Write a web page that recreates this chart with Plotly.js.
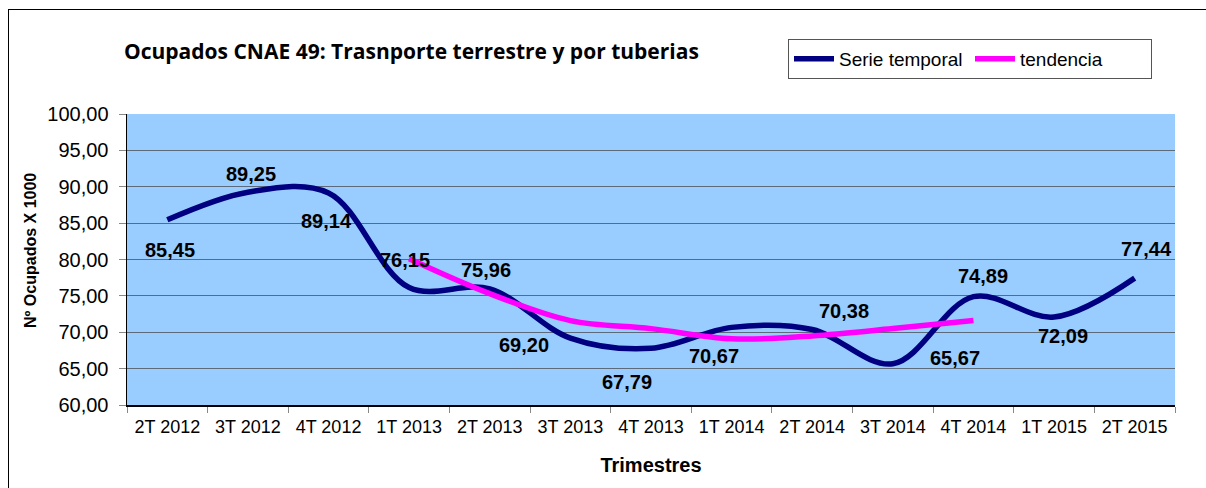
<!DOCTYPE html>
<html>
<head>
<meta charset="utf-8">
<script src="https://cdn.plot.ly/plotly-3.0.1.min.js"></script>
<style>
html,body{margin:0;padding:0;background:#fff;}
#wrap{position:relative;width:1206px;height:488px;overflow:hidden;}
#chart{position:absolute;left:0;top:0;width:1206px;height:488px;}
#frame{position:absolute;left:8px;top:9px;width:1220px;height:500px;border-left:1px solid #000;border-top:1px solid #000;pointer-events:none;}
</style>
</head>
<body>
<div id="wrap"><div id="chart"></div><div id="frame"></div></div>
<script>
// ---- data ----
const categories = ["2T 2012","3T 2012","4T 2012","1T 2013","2T 2013","3T 2013","4T 2013","1T 2014","2T 2014","3T 2014","4T 2014","1T 2015","2T 2015"];
const serieTemporal = [85.45, 89.25, 89.14, 76.15, 75.96, 69.20, 67.79, 70.67, 70.38, 65.67, 74.89, 72.09, 77.44];
const tendencia = [null, null, null, 80.1, 75.3, 71.6, 70.5, 69.1, 69.5, 70.5, 71.6, null, null];
const yTickValues = [60, 65, 70, 75, 80, 85, 90, 95, 100];

// label placement (pixel offsets from each point), styling only
const labelShiftX = [3, 3, -2, -4, -4, -46, -24, -18, 32, 62, 10, 9, 12];
const labelShiftY = [-30, 18, -28, 28, 19, -7, -34, -29, 18, 6, 21, -19, 29];

const fmt = v => v.toFixed(2).replace('.', ',');
const LS = 'Liberation Sans, Arial, sans-serif';

const annotations = serieTemporal.map((v, i) => ({
  x: categories[i], y: v, xref: 'x', yref: 'y',
  text: '<b>' + fmt(v) + '</b>', showarrow: false,
  xshift: labelShiftX[i], yshift: labelShiftY[i],
  font: {family: LS, size: 20, color: '#000'}
}));

// y axis title as rotated annotation (placed like the original)
annotations.push({
  xref: 'paper', yref: 'paper',
  x: (30 - 127) / 1048, y: (405 - 251) / 291,
  xanchor: 'center', yanchor: 'middle',
  text: '<b>Nº Ocupados X 1000</b>', textangle: -90, showarrow: false,
  font: {family: LS, size: 16, color: '#000'}
});

const traces = [
  {
    x: categories, y: serieTemporal, type: 'scatter', mode: 'lines',
    name: 'Serie temporal',
    line: {color: '#000080', width: 5.5, shape: 'spline', smoothing: 1},
    hoverinfo: 'skip'
  },
  {
    x: categories, y: tendencia, type: 'scatter', mode: 'lines',
    name: 'tendencia', connectgaps: false,
    line: {color: '#FF00FF', width: 5.5, shape: 'spline', smoothing: 1},
    hoverinfo: 'skip'
  }
];

// legend drop shadow (decorative)
const px2x = p => (p - 127) / 1048;
const px2y = p => (405 - p) / 291;
const shapes = [
  {type: 'rect', xref: 'paper', yref: 'paper', layer: 'above',
   x0: px2x(791), x1: px2x(1152), y0: px2y(79), y1: px2y(42),
   fillcolor: '#a0a0a0', line: {width: 0}}
];

const layout = {
  width: 1206, height: 488,
  margin: {l: 127, r: 31, t: 114, b: 83, pad: 0},
  paper_bgcolor: '#ffffff',
  plot_bgcolor: '#99CCFF',
  separators: ',.',
  font: {family: LS, color: '#000'},
  title: {
    text: '<b>Ocupados CNAE 49: Trasnporte terrestre y por tuberias</b>',
    font: {family: 'Open Sans, Lato, sans-serif', size: 21, color: '#000'},
    xref: 'container', yref: 'container',
    x: 124/1206, xanchor: 'left',
    y: 1 - 52/488, yanchor: 'middle'
  },
  showlegend: true,
  legend: {
    orientation: 'h',
    xref: 'container', yref: 'container',
    x: 788/1206, xanchor: 'left',
    y: 1 - 39/488, yanchor: 'top',
    bgcolor: '#ffffff', bordercolor: '#555', borderwidth: 1,
    font: {family: LS, size: 19, color: '#000'},
    itemwidth: 40, tracegroupgap: 0, entrywidth: 126
  },
  xaxis: {
    type: 'category',
    range: [-0.5, 12.5],
    showgrid: false, zeroline: false,
    showline: true, linecolor: '#000', linewidth: 1.5,
    ticks: 'outside', tickson: 'boundaries', ticklen: 6, tickcolor: '#888', tickwidth: 1,
    ticklabelstandoff: 5,
    tickfont: {family: LS, size: 18, color: '#000'},
    title: {text: '<b>Trimestres</b>', font: {family: LS, size: 20, color: '#000'}, standoff: 22},
    fixedrange: true
  },
  yaxis: {
    range: [60, 100],
    tickvals: yTickValues,
    tickformat: '.2f',
    showgrid: true, gridcolor: '#5c6a7a', gridwidth: 1,
    zeroline: false,
    showline: true, linecolor: '#000', linewidth: 1.5,
    ticks: 'outside', ticklen: 7, tickcolor: '#888', tickwidth: 1,
    ticklabelstandoff: 6,
    tickfont: {family: LS, size: 20, color: '#000'},
    fixedrange: true
  },
  shapes: shapes,
  annotations: annotations
};

Plotly.newPlot('chart', traces, layout, {displayModeBar: false, staticPlot: true});
</script>
</body>
</html>
